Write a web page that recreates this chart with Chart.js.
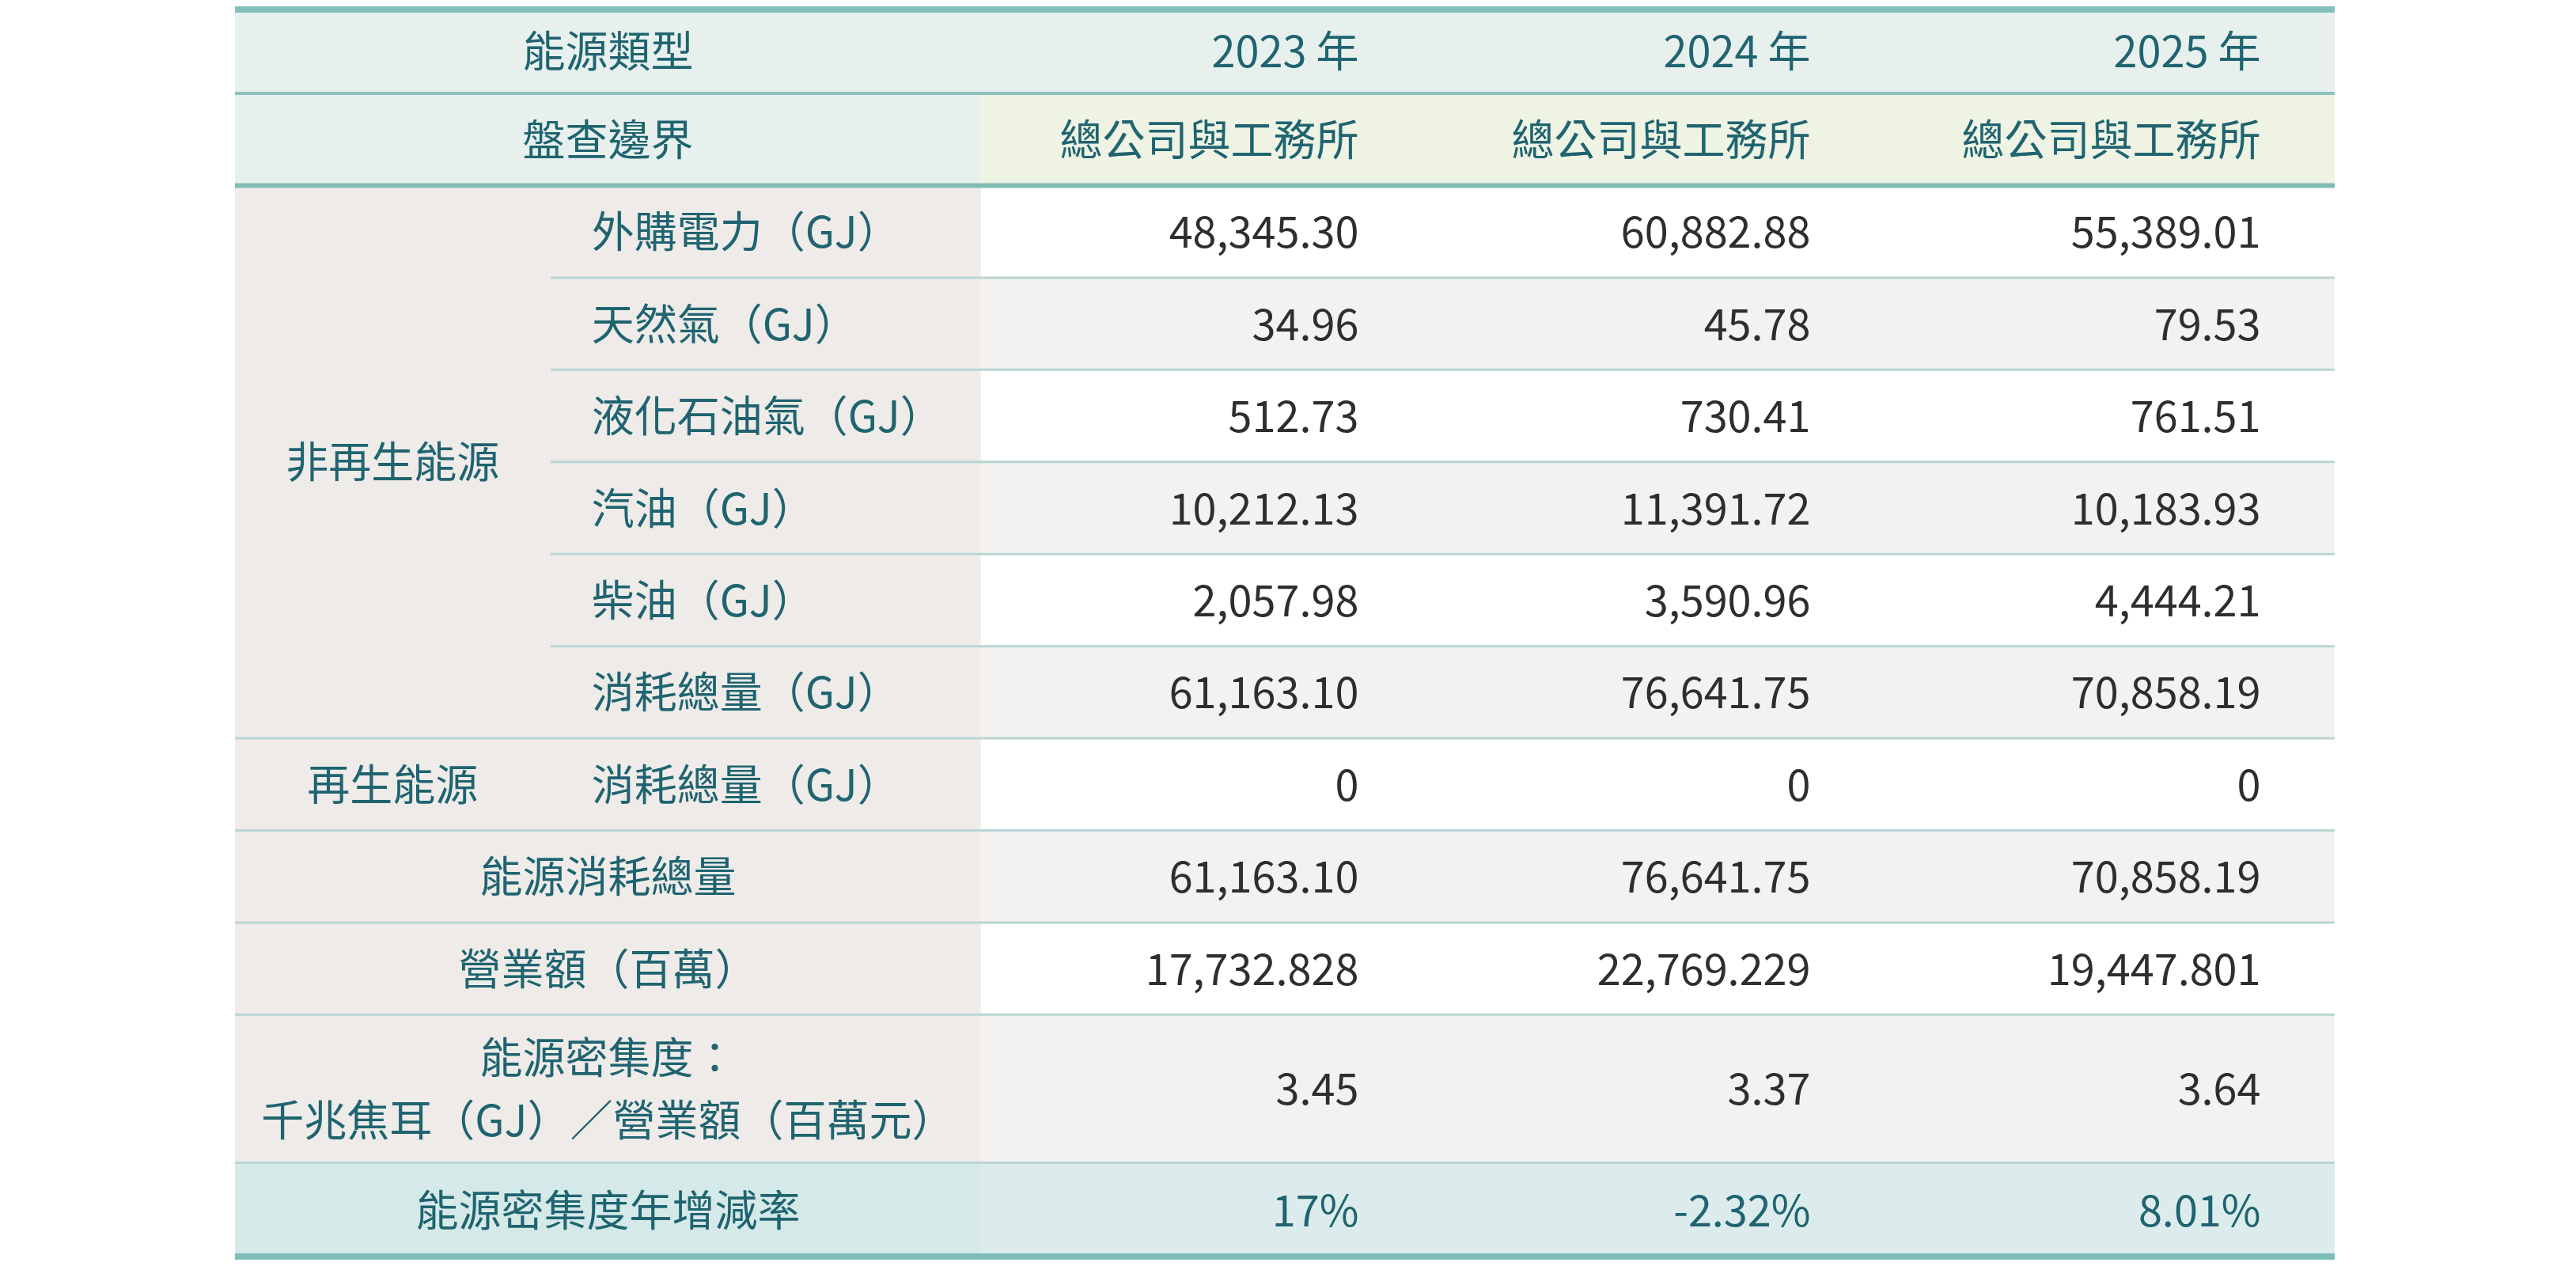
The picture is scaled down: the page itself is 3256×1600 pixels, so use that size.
<!DOCTYPE html>
<html><head><meta charset="utf-8">
<script src="https://cdn.jsdelivr.net/npm/chart.js@4"></script>
<style>html,body{margin:0;padding:0;background:#fff}#w{width:3256px;height:1600px}</style>
</head><body><div id="w"><canvas id="c"></canvas></div>
<script>
// ---- data ----
const yearHeaders = ['2023 年','2024 年','2025 年'];
const boundary = ['總公司與工務所','總公司與工務所','總公司與工務所'];
const groupLabels = ['非再生能源','再生能源'];
const rowLabels = ['外購電力（GJ）','天然氣（GJ）','液化石油氣（GJ）','汽油（GJ）','柴油（GJ）','消耗總量（GJ）','消耗總量（GJ）','能源消耗總量','營業額（百萬）','能源密集度：\n千兆焦耳（GJ）／營業額（百萬元）','能源密集度年增減率'];
const v2023 = ['48,345.30','34.96','512.73','10,212.13','2,057.98','61,163.10','0','61,163.10','17,732.828','3.45','17%'];
const v2024 = ['60,882.88','45.78','730.41','11,391.72','3,590.96','76,641.75','0','76,641.75','22,769.229','3.37','-2.32%'];
const v2025 = ['55,389.01','79.53','761.51','10,183.93','4,444.21','70,858.19','0','70,858.19','19,447.801','3.64','8.01%'];
// ---- layout (units) ----
const colEdges = [0,192,454,729,1004,1278];
const rowHeights = [52,56,56,56,56,56,56,56,56,56,56,90,58];
const rowGroup = [0,0,0,0,0,0,1,null,null,null,null]; // group index per data row
const F = '"Noto Sans CJK TC","Noto Sans",sans-serif';

const tablePlugin = {
  id:'table',
  afterDraw(chart){
    const ctx = chart.ctx, xs = chart.scales.x, ys = chart.scales.y;
    const X = u => xs.getPixelForValue(u), Y = u => ys.getPixelForValue(u);
    const rowTop = [0]; rowHeights.forEach((h,i)=>rowTop.push(rowTop[i]+h));
    const teal='#1f6470', dark='#2e2e2e';
    const rect=(x0,y0,x1,y1,c)=>{ctx.fillStyle=c;ctx.fillRect(X(x0),Y(y0),X(x1)-X(x0),Y(y1)-Y(y0));};
    const hline=(x0,x1,y,c,w)=>{ctx.strokeStyle=c;ctx.lineWidth=w;ctx.beginPath();ctx.moveTo(X(x0),Y(y));ctx.lineTo(X(x1),Y(y));ctx.stroke();};
    const txt=(s,x,y,align,c)=>{ctx.fillStyle=c;ctx.textAlign=align;ctx.textBaseline='middle';ctx.font='54px '+F;ctx.fillText(s,X(x),Y(y));};
    const R = colEdges[5];
    // headers
    rect(0,rowTop[0],R,rowTop[2],'#e7f0ed');
    rect(colEdges[2],rowTop[1],R,rowTop[2],'#eef3e4');
    txt('能源類型',(colEdges[0]+colEdges[2])/2,(rowTop[0]+rowTop[1])/2,'center',teal);
    txt('盤查邊界',(colEdges[0]+colEdges[2])/2,(rowTop[1]+rowTop[2])/2,'center',teal);
    for(let j=0;j<3;j++){
      txt(yearHeaders[j],colEdges[j+3]-45,(rowTop[0]+rowTop[1])/2,'right',teal);
      txt(boundary[j],colEdges[j+3]-45,(rowTop[1]+rowTop[2])/2,'right',teal);
    }
    const vals=[v2023,v2024,v2025];
    const nR=rowLabels.length;
    for(let i=0;i<nR;i++){
      const t=rowTop[i+2], b=rowTop[i+3], m=(t+b)/2, last=i===nR-1;
      rect(0,t,colEdges[2],b,last?'#d6e9e9':'#eeebe8');
      rect(colEdges[2],t,R,b,last?'#dcecec':(i%2===0?'#ffffff':'#f3f2f0'));
      if(rowGroup[i]!==null && rowGroup[i]!==undefined){
        txt(rowLabels[i],colEdges[1]+25,m,'left',teal);
      } else {
        const lines=rowLabels[i].split('\n');
        lines.forEach((l,k)=>txt(l,(colEdges[0]+colEdges[2])/2,m+(k-(lines.length-1)/2)*38,'center',teal));
      }
      for(let j=0;j<3;j++) txt(vals[j][i],colEdges[j+3]-45,m,'right',last?teal:dark);
    }
    // group labels
    groupLabels.forEach((g,gi)=>{
      const idx=rowGroup.map((v,i)=>v===gi?i:-1).filter(i=>i>=0);
      const t=rowTop[idx[0]+2], b=rowTop[idx[idx.length-1]+3];
      txt(g,(colEdges[0]+colEdges[1])/2,(t+b)/2,'center',teal);
    });
    // lines
    for(let i=1;i<nR;i++){
      const y=rowTop[i+2];
      const same=rowGroup[i]!==null&&rowGroup[i]===rowGroup[i-1];
      hline(same?colEdges[1]:0,R,y,'#b9d5d4',3);
    }
    hline(0,R,rowTop[1],'#8cc3bd',4);
    hline(0,R,rowTop[2],'#7fbcb2',6);
    hline(0,R,rowTop[0]+1,'#82c0ba',8);
    hline(0,R,rowTop[rowTop.length-1]-1,'#7dbdb7',8);
  }
};
new Chart(document.getElementById('c'),{
  type:'scatter',
  data:{datasets:[{data:[]}]},
  options:{responsive:true,maintainAspectRatio:false,animation:false,
    layout:{padding:{left:297,right:305,top:10,bottom:10}},
    plugins:{legend:{display:false},tooltip:{enabled:false}},
    scales:{x:{type:'linear',min:0,max:1278,display:false},
            y:{type:'linear',min:0,max:760,reverse:true,display:false}}},
  plugins:[tablePlugin]
});
</script></body></html>
